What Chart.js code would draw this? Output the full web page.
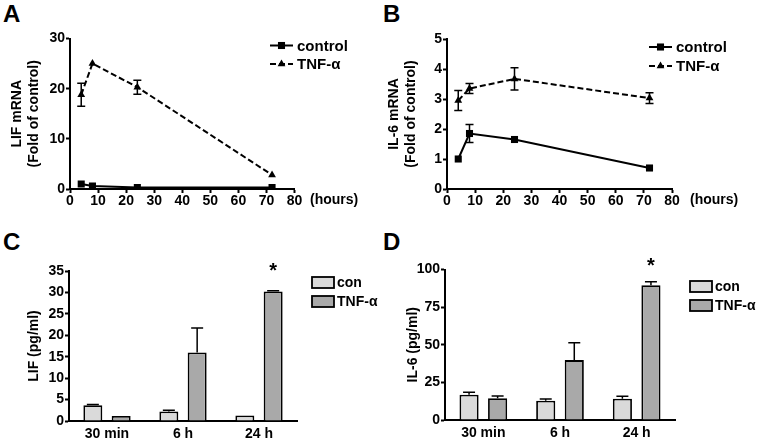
<!DOCTYPE html>
<html><head><meta charset="utf-8">
<script src="https://cdn.jsdelivr.net/npm/chart.js@4/dist/chart.umd.min.js"></script>
<style>
body{margin:0;background:#fff;width:761px;height:443px;overflow:hidden;position:relative;font-family:"Liberation Sans",Arial,sans-serif;}
canvas{position:absolute;left:0;top:0;}
.pl{position:absolute;font-weight:bold;font-size:24px;line-height:1;color:#000;}
</style></head>
<body>
<div class="pl" style="left:3px;top:2px">A</div>
<div class="pl" style="left:383px;top:2px">B</div>
<div class="pl" style="left:3px;top:230px">C</div>
<div class="pl" style="left:383px;top:230px">D</div>
<canvas id="cA" width="761" height="443"></canvas>
<canvas id="cB" width="761" height="443"></canvas>
<canvas id="cC" width="761" height="443"></canvas>
<canvas id="cD" width="761" height="443"></canvas>
<script>
// ---- data ----
const hours = [4, 8, 24, 72];
const hourTicks = [0, 10, 20, 30, 40, 50, 60, 70, 80];
const lifControl = [1.0, 0.6, 0.3, 0.3];
const lifControlErr = [0, 0, 0, 0];
const lifTnf = [18.8, 25.0, 20.3, 2.8];
const lifTnfErr = [2.3, 0, 1.4, 0];
const il6Control = [1.0, 1.85, 1.65, 0.7];
const il6ControlErr = [0, 0.3, 0, 0];
const il6Tnf = [2.95, 3.35, 3.67, 3.03];
const il6TnfErr = [0.33, 0.17, 0.37, 0.18];

const timeLabels = ['30 min', '6 h', '24 h'];
const lifCon = [3.7, 2.2, 1.3];
const lifConErr = [0.15, 0.3, 0];
const lifTnfP = [1.15, 16.0, 30.2];
const lifTnfPErr = [0, 5.7, 0.2];
const lifSig = ['', '', '*'];
const il6Con = [16.8, 12.8, 14.1];
const il6ConErr = [1.6, 1.1, 1.7];
const il6TnfP = [14.5, 39.8, 89.5];
const il6TnfPErr = [1.5, 11.5, 2.3];
const il6Sig = ['', '', '*'];

const FONT = '"Liberation Sans", Arial, sans-serif';

// ---- plugins ----
const errorBars = {
  id: 'errorBars',
  afterDatasetsDraw(chart, args, o) {
    const ctx = chart.ctx, ys = chart.scales.y;
    chart.data.datasets.forEach((ds, di) => {
      if (!ds.errors) return;
      const meta = chart.getDatasetMeta(di);
      ctx.save();
      ctx.strokeStyle = '#000'; ctx.lineWidth = o.lineWidth; ctx.setLineDash([]);
      meta.data.forEach((el, i) => {
        const e = ds.errors[i]; if (!e) return;
        const d = ds.data[i]; const v = (typeof d === 'object') ? d.y : d;
        const top = ys.getPixelForValue(v + e);
        const bot = o.upOnly ? ys.getPixelForValue(v) : ys.getPixelForValue(v - e);
        const x = el.x;
        ctx.beginPath();
        ctx.moveTo(x, bot); ctx.lineTo(x, top);
        ctx.moveTo(x - o.cap, top); ctx.lineTo(x + o.cap, top);
        if (!o.upOnly) { ctx.moveTo(x - o.cap, bot); ctx.lineTo(x + o.cap, bot); }
        ctx.stroke();
      });
      ctx.restore();
    });
  }
};

function drawMarker(ctx, style, r, x, y) {
  ctx.beginPath();
  if (style === 'rect') {
    const s = r * Math.SQRT1_2;
    ctx.rect(x - s, y - s, 2 * s, 2 * s);
  } else {
    const w = r * Math.sqrt(3) / 2;
    ctx.moveTo(x, y - r); ctx.lineTo(x + w, y + r / 2); ctx.lineTo(x - w, y + r / 2); ctx.closePath();
  }
  ctx.fill();
}

const lineLegend = {
  id: 'lineLegend',
  afterDraw(chart, args, o) {
    if (!o || o.x === undefined) return;
    const ctx = chart.ctx;
    chart.data.datasets.forEach((ds, i) => {
      const y = o.ys[i];
      ctx.save();
      ctx.strokeStyle = '#000'; ctx.fillStyle = '#000'; ctx.lineWidth = 2;
      ctx.setLineDash(ds.borderDash || []);
      ctx.beginPath(); ctx.moveTo(o.x, y); ctx.lineTo(o.x + o.len, y); ctx.stroke();
      ctx.setLineDash([]);
      drawMarker(ctx, ds.pointStyle, ds.pointRadius, o.x + o.len / 2, y);
      ctx.font = 'bold 15px ' + FONT; ctx.textBaseline = 'middle'; ctx.textAlign = 'left';
      ctx.fillText(ds.label, o.x + o.len + o.gap, y + 1);
      ctx.restore();
    });
  }
};

const barLegend = {
  id: 'barLegend',
  afterDraw(chart, args, o) {
    if (!o || o.x === undefined) return;
    const ctx = chart.ctx;
    chart.data.datasets.forEach((ds, i) => {
      const t = o.tops[i];
      ctx.save();
      ctx.fillStyle = ds.backgroundColor; ctx.strokeStyle = '#000'; ctx.lineWidth = 1.8;
      ctx.fillRect(o.x, t, o.w, o.h); ctx.strokeRect(o.x, t, o.w, o.h);
      ctx.fillStyle = '#000'; ctx.font = 'bold 14px ' + FONT; ctx.textBaseline = 'middle'; ctx.textAlign = 'left';
      ctx.fillText(ds.label, o.x + o.w + 3, t + o.h / 2 + 1);
      ctx.restore();
    });
  }
};

const notes = {
  id: 'notes',
  afterDraw(chart, args, o) {
    const ctx = chart.ctx;
    if (o.axisNote) {
      ctx.save(); ctx.fillStyle = '#000'; ctx.font = 'bold 14px ' + FONT;
      ctx.textBaseline = 'middle'; ctx.textAlign = 'left';
      ctx.fillText(o.axisNote.text, o.axisNote.x, o.axisNote.y);
      ctx.restore();
    }
    if (o.sig) {
      const ds = chart.data.datasets[o.sig.dataset];
      const meta = chart.getDatasetMeta(o.sig.dataset);
      const ys = chart.scales.y;
      ctx.save(); ctx.fillStyle = '#000'; ctx.font = 'bold 20px ' + FONT;
      ctx.textAlign = 'center'; ctx.textBaseline = 'alphabetic';
      o.sig.marks.forEach((m, i) => {
        if (!m) return;
        const v = ds.data[i] + (ds.errors ? ds.errors[i] : 0);
        ctx.fillText(m, meta.data[i].x, ys.getPixelForValue(v) - o.sig.gap);
      });
      ctx.restore();
    }
  }
};

const tickFont = { family: FONT, size: 14, weight: 'bold' };

function lineChart(id, area, yMax, yStep, title, titlePad, ctrl, ctrlErr, tnf, tnfErr, legend, note) {
  const yW = 70, xH = 20;
  return new Chart(document.getElementById(id), {
    type: 'line',
    data: {
      datasets: [
        { label: 'control', data: hours.map((h, i) => ({ x: h, y: ctrl[i] })), errors: ctrlErr,
          borderColor: '#000', backgroundColor: '#000', borderWidth: 2, pointStyle: 'rect',
          pointRadius: 5, pointBorderWidth: 0, pointBackgroundColor: '#000', tension: 0 },
        { label: 'TNF-α', data: hours.map((h, i) => ({ x: h, y: tnf[i] })), errors: tnfErr,
          borderColor: '#000', backgroundColor: '#000', borderWidth: 2, borderDash: [6, 3], pointStyle: 'triangle',
          pointRadius: 4.5, pointBorderWidth: 0, pointBackgroundColor: '#000', tension: 0 }
      ]
    },
    options: {
      responsive: false, animation: false, devicePixelRatio: 1,
      layout: { padding: { left: area.l - yW, right: 761 - area.r, top: area.t, bottom: 443 - area.b - xH } },
      scales: {
        x: { type: 'linear', min: 0, max: 80,
          afterBuildTicks: s => { s.ticks = hourTicks.map(v => ({ value: v })); },
          afterFit: s => { s.height = xH; },
          ticks: { font: tickFont, color: '#000', padding: 0, maxRotation: 0, autoSkip: false },
          grid: { display: true, drawOnChartArea: false, drawTicks: true, tickLength: 4, tickWidth: 2, tickColor: '#000' },
          border: { display: true, color: '#000', width: 2 } },
        y: { type: 'linear', min: 0, max: yMax,
          ticks: { stepSize: yStep, font: tickFont, color: '#000', padding: 1 },
          afterFit: s => { s.width = yW; },
          grid: { display: true, drawOnChartArea: false, drawTicks: true, tickLength: 4, tickWidth: 2, tickColor: '#000' },
          border: { display: true, color: '#000', width: 2 },
          title: { display: true, text: title, color: '#000', font: { family: FONT, size: 14, weight: 'bold', lineHeight: 1.2 }, padding: { top: titlePad, bottom: 0 } } }
      },
      plugins: {
        legend: { display: false }, tooltip: { enabled: false },
        errorBars: { lineWidth: 1.5, cap: 4, upOnly: false },
        lineLegend: legend,
        notes: { axisNote: note }
      }
    },
    plugins: [errorBars, lineLegend, notes]
  });
}

function barChart(id, area, yMax, yStep, title, titlePad, con, conErr, tnf, tnfErr, sig, sigGap, legend) {
  const yW = 70, xH = 20;
  return new Chart(document.getElementById(id), {
    type: 'bar',
    data: {
      labels: timeLabels,
      datasets: [
        { label: 'con', data: con, errors: conErr, backgroundColor: '#dadada', borderColor: '#000', borderWidth: 1.8,
          categoryPercentage: 0.745, barPercentage: 0.67 },
        { label: 'TNF-α', data: tnf, errors: tnfErr, backgroundColor: '#a9a9a9', borderColor: '#000', borderWidth: 1.8,
          categoryPercentage: 0.745, barPercentage: 0.67 }
      ]
    },
    options: {
      responsive: false, animation: false, devicePixelRatio: 1,
      layout: { padding: { left: area.l - yW, right: 761 - area.r, top: area.t, bottom: 443 - area.b - xH } },
      scales: {
        x: { afterFit: s => { s.height = xH; },
          ticks: { font: { family: FONT, size: 14, weight: 'bold' }, color: '#000', padding: 5, maxRotation: 0 },
          grid: { display: false, drawTicks: false, tickLength: 0 },
          border: { display: true, color: '#000', width: 2 } },
        y: { min: 0, max: yMax,
          ticks: { stepSize: yStep, font: tickFont, color: '#000', padding: 1 },
          afterFit: s => { s.width = yW; },
          grid: { display: true, drawOnChartArea: false, drawTicks: true, tickLength: 4, tickWidth: 2, tickColor: '#000' },
          border: { display: true, color: '#000', width: 2 },
          title: { display: true, text: title, color: '#000', font: { family: FONT, size: 14, weight: 'bold', lineHeight: 1.2 }, padding: { top: titlePad, bottom: 0 } } }
      },
      plugins: {
        legend: { display: false }, tooltip: { enabled: false },
        errorBars: { lineWidth: 1.5, cap: 6, upOnly: true },
        barLegend: legend,
        notes: { sig: { dataset: 1, marks: sig, gap: sigGap } }
      }
    },
    plugins: [errorBars, barLegend, notes]
  });
}

lineChart('cA', { l: 70, r: 294.5, t: 38.5, b: 189 }, 30, 10, ['LIF mRNA', '(Fold of control)'], 8.6,
  lifControl, lifControlErr, lifTnf, lifTnfErr,
  { x: 270, len: 23, gap: 4, ys: [45.5, 64] }, { text: '(hours)', x: 310, y: 200 });
lineChart('cB', { l: 447, r: 672, t: 39, b: 189 }, 5, 1, ['IL-6 mRNA', '(Fold of control)'], 8.6,
  il6Control, il6ControlErr, il6Tnf, il6TnfErr,
  { x: 649, len: 23, gap: 4, ys: [47, 66] }, { text: '(hours)', x: 690, y: 200 });
barChart('cC', { l: 69, r: 297, t: 271, b: 421 }, 35, 5, 'LIF (pg/ml)', 26.6,
  lifCon, lifConErr, lifTnfP, lifTnfPErr, lifSig, 14,
  { x: 312, w: 22, h: 11, tops: [277, 296] });
barChart('cD', { l: 445, r: 675, t: 269.5, b: 420 }, 100, 25, 'IL-6 (pg/ml)', 29.6,
  il6Con, il6ConErr, il6TnfP, il6TnfPErr, il6Sig, 10,
  { x: 690, w: 22, h: 11, tops: [281, 300] });
</script>
</body></html>
